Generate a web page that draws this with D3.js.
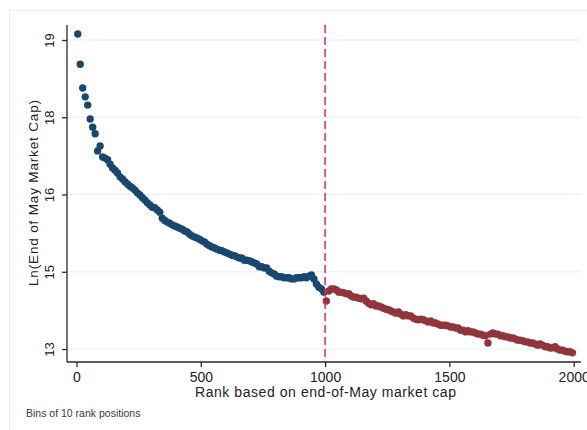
<!DOCTYPE html>
<html>
<head>
<meta charset="utf-8">
<script src="https://cdn.jsdelivr.net/npm/d3@7"></script>
<style>
  body { margin: 0; background: #fff; }
  text { font-family: "Liberation Sans", Arial, sans-serif; }
</style>
</head>
<body>
<svg id="chart" width="587" height="430"></svg>
<script>
// Globals.
var WIDTH = 587;
var HEIGHT = 430;
var BIN_SIZE = 10;
var CUTOFF = 1000;
var BLUE = '#1a476f';
var RED = '#90353b';

// Bin centres (bins of 10 rank positions).
var rankBins = d3.range(5, 2000, BIN_SIZE);

// Mean ln(market cap) per bin, ranks 5..995.
var topValues = [
  19.11, 18.56, 18.13, 17.97, 17.82, 17.57, 17.42, 17.30, 16.99, 17.08,
  16.88, 16.86, 16.83, 16.75, 16.68, 16.64, 16.59, 16.52, 16.48, 16.43,
  16.39, 16.35, 16.32, 16.28, 16.23, 16.19, 16.14, 16.10, 16.05, 16.01,
  15.97, 15.96, 15.92, 15.88, 15.77, 15.73, 15.70, 15.68, 15.65, 15.63,
  15.61, 15.59, 15.57, 15.54, 15.52, 15.48, 15.45, 15.43, 15.41, 15.39,
  15.36, 15.34, 15.30, 15.27, 15.25, 15.23, 15.21, 15.19, 15.18, 15.16,
  15.14, 15.12, 15.10, 15.09, 15.07, 15.05, 15.05, 15.01, 15.01, 15.00,
  14.98, 14.96, 14.94, 14.89, 14.89, 14.87, 14.87, 14.81, 14.78, 14.76,
  14.72, 14.71, 14.71, 14.69, 14.69, 14.69, 14.67, 14.67, 14.69, 14.69,
  14.69, 14.71, 14.69, 14.72, 14.74, 14.67, 14.58, 14.52, 14.49, 14.43
];

// Mean ln(market cap) per bin, ranks 1005..1995.
var bottomValues = [
  14.27, 14.45, 14.49, 14.49, 14.47, 14.43, 14.43, 14.42, 14.40, 14.40,
  14.36, 14.34, 14.34, 14.32, 14.31, 14.32, 14.27, 14.23, 14.20, 14.22,
  14.18, 14.18, 14.16, 14.14, 14.12, 14.11, 14.09, 14.07, 14.05, 14.07,
  14.03, 14.00, 14.02, 14.00, 14.00, 13.96, 13.94, 13.93, 13.94, 13.93,
  13.91, 13.89, 13.91, 13.87, 13.87, 13.85, 13.83, 13.83, 13.83, 13.82,
  13.80, 13.80, 13.78, 13.78, 13.74, 13.74, 13.71, 13.73, 13.71, 13.71,
  13.69, 13.67, 13.67, 13.65, 13.64, 13.51, 13.67, 13.69, 13.67, 13.67,
  13.64, 13.64, 13.62, 13.62, 13.60, 13.60, 13.58, 13.56, 13.56, 13.55,
  13.53, 13.53, 13.51, 13.51, 13.49, 13.47, 13.49, 13.47, 13.44, 13.44,
  13.42, 13.42, 13.44, 13.40, 13.38, 13.38, 13.36, 13.35, 13.35, 13.33
];

// Axis ticks.
var xTicks = [0, 500, 1000, 1500, 2000];
var yTicks = [13.4, 14.8, 16.2, 17.6, 19.0];

var svg = d3.select('#chart');

var x = d3.scaleLinear().domain([0, 2000]).range([76.5, 573.7]);
var y = d3.scaleLinear().domain([13.4, 19.0]).range([349, 40]);

// Outer frame.
svg.append('rect')
  .attr('x', 9.5).attr('y', 10.5)
  .attr('width', 620).attr('height', 440)
  .attr('fill', 'none')
  .attr('stroke', '#e6eeee');

// Gridlines.
svg.append('g')
  .selectAll('line')
  .data(yTicks)
  .enter()
  .append('line')
  .attr('x1', 67).attr('x2', 581)
  .attr('y1', function(d){ return y(d); })
  .attr('y2', function(d){ return y(d); })
  .attr('stroke', '#e8f0f0')
  .attr('stroke-width', 1.2);

// Points.
var points = rankBins.map(function(r, i){
  var v = i < topValues.length ? topValues[i] : bottomValues[i - topValues.length];
  return {rank: r, val: v};
});

svg.append('g')
  .selectAll('circle')
  .data(points)
  .enter()
  .append('circle')
  .attr('cx', function(d){ return x(d.rank); })
  .attr('cy', function(d){ return y(d.val); })
  .attr('r', 3.7)
  .attr('fill', function(d){ return d.rank < CUTOFF ? BLUE : RED; });

// Cutoff line.
svg.append('line')
  .attr('x1', x(CUTOFF)).attr('x2', x(CUTOFF))
  .attr('y1', 25).attr('y2', 362)
  .attr('stroke', '#dc2858')
  .attr('stroke-width', 1.5)
  .attr('stroke-dasharray', '8,4');

// Axes.
var xAxis = d3.axisBottom(x).tickValues(xTicks).tickSize(5).tickFormat(d3.format('d'));
var gx = svg.append('g').attr('transform', 'translate(0,362)').call(xAxis);
gx.select('.domain').attr('d', 'M67,0H581');
gx.selectAll('line, path').attr('stroke', '#2a2a2a').attr('stroke-width', 1.3);
gx.selectAll('text')
  .attr('y', 10)
  .attr('font-size', 14)
  .attr('fill', '#222');

var yAxis = d3.axisLeft(y).tickValues(yTicks).tickSize(5).tickFormat(d3.format('.0f'));
var gy = svg.append('g').attr('transform', 'translate(67,0)').call(yAxis);
gy.select('.domain').attr('d', 'M0,25V362');
gy.selectAll('line, path').attr('stroke', '#2a2a2a').attr('stroke-width', 1.3);
gy.selectAll('.tick text')
  .attr('x', null).attr('dy', null)
  .attr('transform', 'translate(-13,0) rotate(-90)')
  .attr('text-anchor', 'middle')
  .attr('font-size', 13)
  .attr('fill', '#222');

// Axis titles.
svg.append('text')
  .attr('x', 325.5).attr('y', 397)
  .attr('text-anchor', 'middle')
  .attr('font-size', 14)
  .attr('textLength', 261)
  .attr('fill', '#222')
  .text('Rank based on end-of-May market cap');

svg.append('text')
  .attr('transform', 'translate(38,193) rotate(-90)')
  .attr('text-anchor', 'middle')
  .attr('font-size', 13.5)
  .attr('textLength', 186)
  .attr('fill', '#222')
  .text('Ln(End of May Market Cap)');

// Note.
svg.append('text')
  .attr('x', 26).attr('y', 417)
  .attr('font-size', 10.5)
  .attr('fill', '#3a3a3a')
  .text('Bins of 10 rank positions');
</script>
</body>
</html>
